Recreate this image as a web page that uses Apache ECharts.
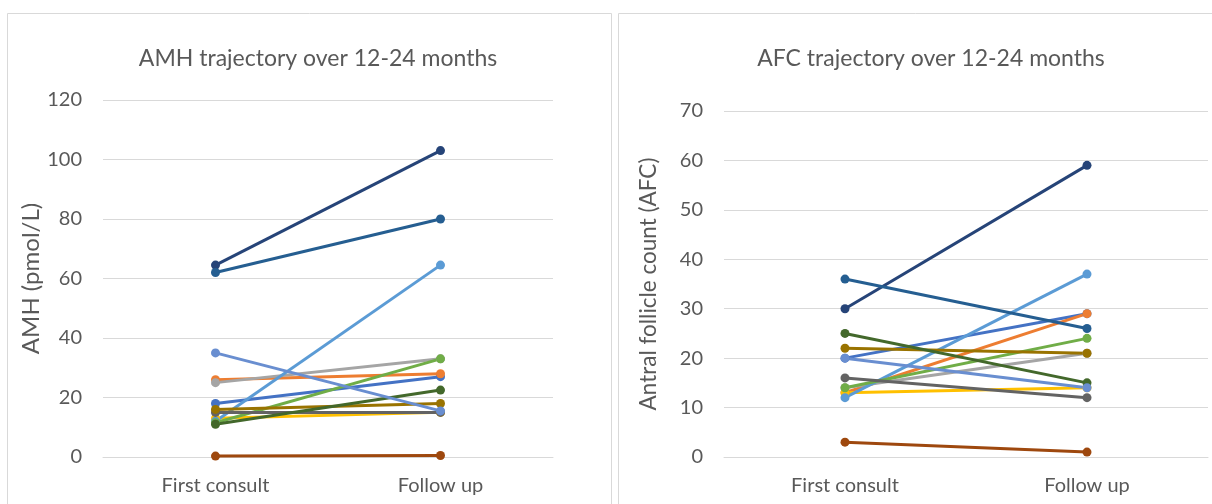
<!DOCTYPE html>
<html>
<head>
<meta charset="utf-8">
<script src="https://cdn.jsdelivr.net/npm/echarts@6/dist/echarts.min.js"></script>
<style>
html,body{margin:0;padding:0;background:#fff;}
#chart{width:1212px;height:504px;}
</style>
</head>
<body>
<div id="chart"></div>
<script>
// Data
const categories = ['First consult', 'Follow up'];
const seriesNames = ['P1','P2','P3','P4','P5','P6','P7','P8','P9','P10','P11','P12','P13'];
const colors = ['#4472C4','#ED7D31','#A5A5A5','#FFC000','#5B9BD5','#70AD47','#264478','#9E480E','#636363','#997300','#255E91','#43682B','#698ED0'];
const amhFirst  = [18, 26, 25, 13, 12, 11.5, 64.5, 0.3, 15, 16, 62, 11, 35];
const amhFollow = [27, 28, 33, 15, 64.5, 33, 103, 0.5, 15, 18, 80, 22.5, 15.5];
const afcFirst  = [20, 13, 14, 13, 12, 14, 30, 3, 16, 22, 36, 25, 20];
const afcFollow = [29, 29, 21, 14, 37, 24, 59, 1, 12, 21, 26, 15, 14];
const amhTicks = [0, 20, 40, 60, 80, 100, 120];
const afcTicks = [0, 10, 20, 30, 40, 50, 60, 70];

const FONT = 'Lato, "Open Sans", sans-serif';
const TXT = '#595959';
const GRID = '#d9d9d9';

function yAxis(idx, ticks, name) {
  return {
    gridIndex: idx, type: 'value', min: ticks[0], max: ticks[ticks.length-1],
    interval: ticks[1]-ticks[0],
    name: name, nameLocation: 'middle', nameRotate: 90,
    nameGap: idx === 0 ? 56 : 64,
    nameTextStyle: {color: TXT, fontSize: idx === 0 ? 24 : 22.5, fontFamily: FONT},
    axisLine: {show: false}, axisTick: {show: false},
    axisLabel: {color: TXT, fontSize: 20, fontFamily: FONT, margin: 21},
    splitLine: {lineStyle: {color: GRID, width: 1}}
  };
}
function xAxis(idx) {
  return {
    gridIndex: idx, type: 'category', data: categories, boundaryGap: true,
    axisLine: {lineStyle: {color: GRID}}, axisTick: {show: false},
    axisLabel: {color: TXT, fontSize: 20, fontFamily: FONT, margin: 19}
  };
}

const series = [];
seriesNames.forEach((n, i) => {
  [[amhFirst, amhFollow, 0], [afcFirst, afcFollow, 1]].forEach(([a, b, g]) => {
    series.push({
      name: n, type: 'line', xAxisIndex: g, yAxisIndex: g,
      data: [a[i], b[i]],
      symbol: 'circle', symbolSize: 9,
      lineStyle: {color: colors[i], width: 3},
      itemStyle: {color: colors[i]},
      emphasis: {disabled: true}, animation: false
    });
  });
});

const chart = echarts.init(document.getElementById('chart'), null, {renderer: 'canvas'});
chart.setOption({
  backgroundColor: '#fff',
  animation: false,
  graphic: [
    {type: 'rect', shape: {x: 7.5, y: 13.5, width: 604, height: 500}, style: {fill: '#fff', stroke: GRID, lineWidth: 1}, z: -10},
    {type: 'rect', shape: {x: 618.5, y: 13.5, width: 600, height: 500}, style: {fill: '#fff', stroke: GRID, lineWidth: 1}, z: -10}
  ],
  title: [
    {text: 'AMH trajectory over 12-24 months', left: 313, top: 42, textAlign: 'center',
     textStyle: {color: TXT, fontSize: 23, fontWeight: 'normal', fontFamily: FONT}},
    {text: 'AFC trajectory over 12-24 months', left: 926, top: 42, textAlign: 'center',
     textStyle: {color: TXT, fontSize: 23, fontWeight: 'normal', fontFamily: FONT}}
  ],
  grid: [
    {left: 103, top: 100, width: 450, height: 357},
    {left: 724, top: 111, width: 484, height: 346}
  ],
  xAxis: [xAxis(0), xAxis(1)],
  yAxis: [yAxis(0, amhTicks, 'AMH (pmol/L)'), yAxis(1, afcTicks, 'Antral follicle count (AFC)')],
  series: series
});
</script>
</body>
</html>
